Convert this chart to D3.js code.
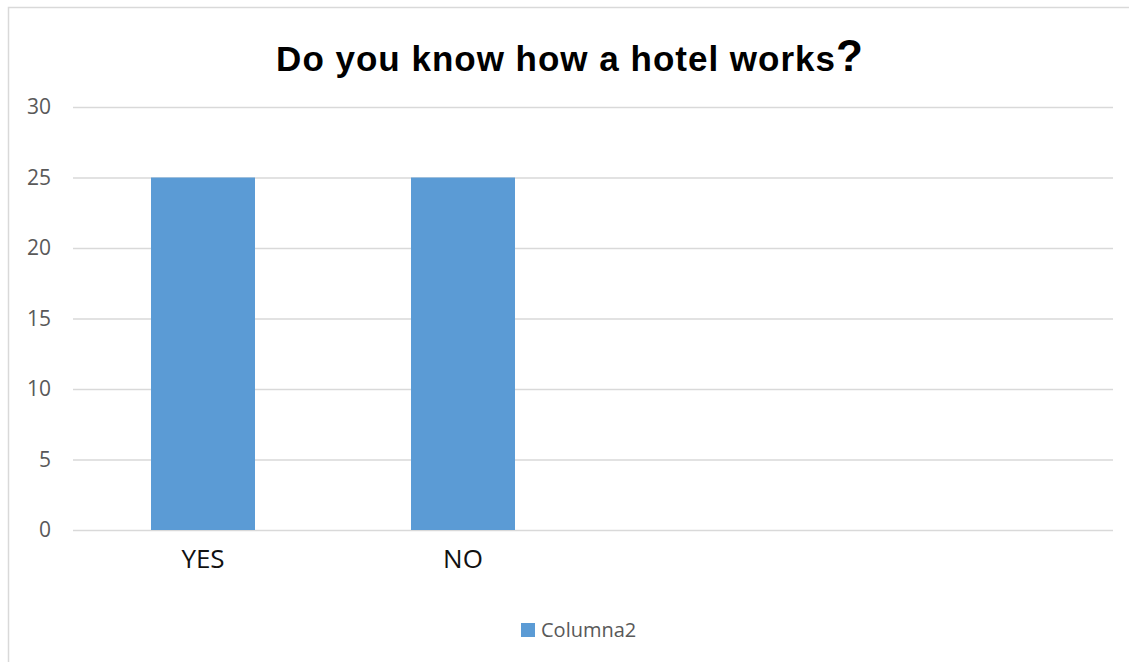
<!DOCTYPE html>
<html>
<head>
    <meta charset="utf-8">
    <style>
        body { margin: 0; background: #fff; }
        svg { display: block; }
        .tick text { font-family: 'Open Sans', sans-serif; }
    </style>
</head>
<body>
    <svg width="1129" height="662"></svg>

<script src="https://d3js.org/d3.v7.min.js"></script>
<script>
    // chart values
    let categories = ["YES", "NO", "c3", "c4"];   // last two slots are empty in the original
    let categoryLabels = ["YES", "NO", "", ""];
    let values = [25, 25, null, null];
    let yTicks = [0, 5, 10, 15, 20, 25, 30];
    let seriesName = "Columna2";

    let svg = d3.select("svg");
    let margin = { left: 73, right: 16, top: 107, bottom: 132 };
    let width = 1129, height = 662;

    // chart frame (runs off the right and bottom of the picture)
    svg.append("rect")
        .attr("x", 8.5).attr("y", 7.5)
        .attr("width", 1200).attr("height", 800)
        .style("fill", "none")
        .style("stroke", "#d9d9d9")
        .style("stroke-width", 1.5)

    let x = d3.scaleBand()
        .domain(categories)
        .range([margin.left, width - margin.right])
        .paddingInner(0.6)
        .paddingOuter(0.3)

    let y = d3.scaleLinear()
        .domain([0, 30])
        .range([height - margin.bottom, margin.top])

    // gridlines + y labels
    let yAxis = svg.append("g")
        .attr("transform", `translate(${margin.left},0)`)
        .call(d3.axisLeft(y).tickValues(yTicks).tickSize(-(width - margin.right - margin.left)).tickPadding(22))
    yAxis.select(".domain").remove()
    yAxis.selectAll(".tick line")
        .style("stroke", "#d9d9d9")
        .style("stroke-width", 1.5)
    yAxis.selectAll(".tick text")
        .style("font-size", "21px")
        .style("fill", "#595959")

    // bars
    svg.selectAll(".bar")
        .data(categories.map((c, i) => ({ cat: c, value: values[i] })).filter(d => d.value != null))
        .join("rect")
        .attr("class", "bar")
        .attr("x", d => x(d.cat))
        .attr("width", x.bandwidth())
        .attr("y", d => y(d.value))
        .attr("height", d => y(0) - y(d.value))
        .style("fill", "#5b9bd5")

    // x labels
    let xAxis = svg.append("g")
        .attr("transform", `translate(0,${y(0)})`)
        .call(d3.axisBottom(x).tickSize(0).tickPadding(20).tickFormat((d, i) => categoryLabels[i]))
    xAxis.select(".domain").remove()
    xAxis.selectAll(".tick text")
        .style("font-size", "26px")
        .style("fill", "#111")

    // title
    let title = svg.append("text")
        .attr("x", 570)
        .attr("y", 71)
        .attr("text-anchor", "middle")
        .style("font-family", "'Liberation Sans', Arial, sans-serif")
        .style("font-weight", "bold")
        .style("font-size", "35px")
        .style("letter-spacing", "1px")
        .style("fill", "#000")
    title.append("tspan").text("Do you know how a hotel works")
    title.append("tspan").style("font-size", "44px").text("?")

    // legend
    let legend = svg.append("g").attr("transform", "translate(521,623)")
    legend.append("rect")
        .attr("width", 14).attr("height", 14)
        .style("fill", "#5b9bd5")
    legend.append("text")
        .attr("x", 20).attr("y", 14)
        .style("font-family", "'Open Sans', sans-serif")
        .style("font-size", "20px")
        .style("fill", "#595959")
        .text(seriesName)
</script>
</body>
</html>
